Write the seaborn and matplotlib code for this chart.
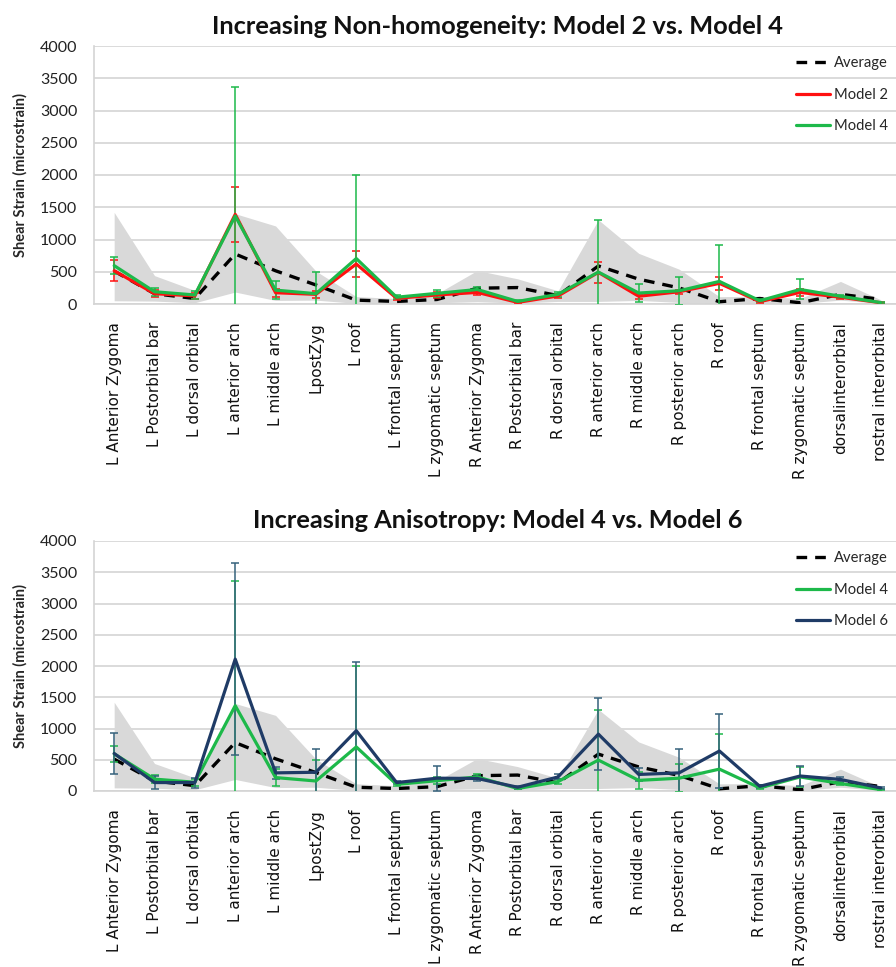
import numpy as np
import matplotlib
matplotlib.use("Agg")
import matplotlib.pyplot as plt
import seaborn as sns

# Cranial regions along the x axis
regions = [
    "L Anterior Zygoma", "L Postorbital bar", "L dorsal orbital", "L anterior arch",
    "L middle arch", "LpostZyg", "L roof", "L frontal septum", "L zygomatic septum",
    "R Anterior Zygoma", "R Postorbital bar", "R dorsal orbital", "R anterior arch",
    "R middle arch", "R posterior arch", "R roof", "R frontal septum",
    "R zygomatic septum", "dorsalinterorbital", "rostral interorbital",
]

# Shear strain (microstrain)
average = [510, 160, 85, 775, 515, 295, 60, 40, 70, 245, 255, 130, 590, 385, 250, 35, 85, 20, 150, 72]
range_high = [1420, 440, 210, 1400, 1210, 510, 115, 85, 160, 520, 390, 205, 1305, 785, 540, 114, 120, 85, 350, 65]
range_low = [50, 45, 20, 185, 55, 60, 10, 10, 20, 35, 15, 40, 40, 55, 25, 10, 10, 10, 60, 10]

model2 = [515, 160, 125, 1390, 175, 150, 620, 88, 140, 180, 25, 125, 490, 120, 190, 320, 36, 180, 105, 20]
model2_err = [160, 50, 40, 430, 60, 50, 200, 20, 40, 40, 15, 30, 160, 40, 30, 100, 15, 50, 20, 10]

model4 = [595, 190, 140, 1365, 215, 160, 705, 105, 165, 225, 40, 150, 495, 170, 205, 350, 50, 225, 120, 22]
model4_err = [130, 60, 60, 1995, 140, 340, 1290, 30, 55, 40, 15, 35, 800, 140, 220, 570, 20, 155, 25, 10]

model6 = [600, 135, 135, 2110, 290, 300, 965, 135, 205, 200, 60, 225, 910, 265, 290, 640, 75, 240, 185, 48]
model6_err = [335, 100, 80, 1540, 90, 380, 1100, 30, 200, 40, 20, 40, 580, 100, 380, 590, 20, 165, 40, 15]

y_ticks = [0, 500, 1000, 1500, 2000, 2500, 3000, 3500, 4000]

RED = "#FF1010"
GREEN = "#1DB94A"
NAVY = "#1F3B66"
NAVY_ERR = "#36627C"
BAND = "#D9D9D9"
GRID = "#D4D4D4"

sns.set_style("white")
plt.rcParams["font.family"] = ["Lato", "DejaVu Sans"]

W, H = 896, 967
fig = plt.figure(figsize=(W / 100, H / 100), dpi=100)

pos = np.arange(len(regions))


def panel(top_px, bottom_px, title, series):
    left_px, right_px = 94, 901
    ax = fig.add_axes([left_px / W, 1 - bottom_px / H,
                       (right_px - left_px) / W, (bottom_px - top_px) / H])
    ax.fill_between(pos, range_low, range_high, color=BAND, lw=0, zorder=1)
    sns.lineplot(x=pos, y=average, ax=ax, color="black", linestyle=(0, (3.2, 2.4)),
                 lw=2.4, label="Average", zorder=3)
    for vals, errs, color, ecolor, name in series:
        ax.errorbar(pos, vals, yerr=errs, fmt="none", ecolor=ecolor,
                    elinewidth=1.1, capsize=3, capthick=1.1, zorder=4)
        sns.lineplot(x=pos, y=vals, ax=ax, color=color, lw=2.3, label=name, zorder=5)

    ax.set_xlim(-0.5, len(regions) - 0.5)
    ax.set_ylim(0, 4000)
    ax.set_yticks(y_ticks)
    ax.set_yticklabels([str(t) for t in y_ticks], fontsize=11.5, color="#222222")
    ax.set_xticks(pos)
    ax.set_xticklabels(regions, rotation=90, fontsize=11, family="DejaVu Sans",
                       color="#111111", va="top")
    ax.tick_params(axis="both", length=0)
    ax.tick_params(axis="y", pad=12)
    ax.tick_params(axis="x", pad=13)
    ax.yaxis.grid(True, color=GRID, lw=1.2)
    ax.set_axisbelow(True)
    for side in ("top", "right"):
        ax.spines[side].set_visible(False)
    for side in ("left", "bottom"):
        ax.spines[side].set_color(GRID)
        ax.spines[side].set_linewidth(1.2)

    ax.set_ylabel("Shear Strain (microstrain)", fontsize=10.5, fontweight="bold",
                  labelpad=9)
    ax.set_title(title, fontsize=18.3, fontweight="bold", pad=9, color="#111111")

    ax.legend(loc="upper left", bbox_to_anchor=(796 / W, 1 - (top_px + 10) / H),
              bbox_transform=fig.transFigure, frameon=False, fontsize=10.6,
              handlelength=2.3, handletextpad=0.3, labelspacing=1.2,
              borderpad=0, borderaxespad=0)
    return ax


panel(46, 304, "Increasing Non-homogeneity: Model 2 vs. Model 4",
      [(model2, model2_err, RED, RED, "Model 2"),
       (model4, model4_err, GREEN, GREEN, "Model 4")])

panel(541, 791, "Increasing Anisotropy: Model 4 vs. Model 6",
      [(model4, model4_err, GREEN, GREEN, "Model 4"),
       (model6, model6_err, NAVY, NAVY_ERR, "Model 6")])

fig.savefig("out.png", dpi=100)
